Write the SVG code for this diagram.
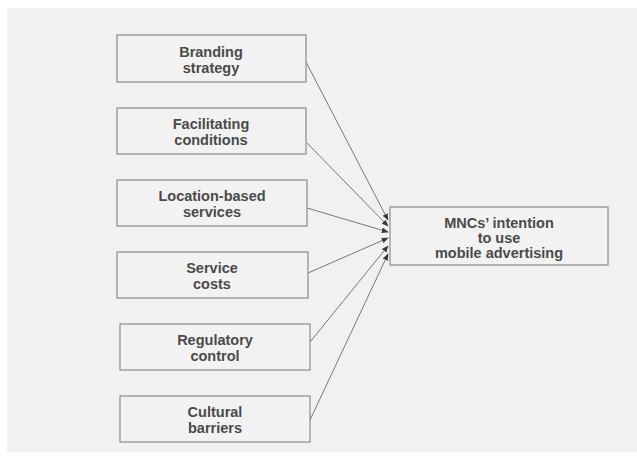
<svg xmlns="http://www.w3.org/2000/svg" width="637" height="459" viewBox="0 0 637 459">
  <defs>
    <style>
      .box { fill: #f2f2f2; stroke: #8a8a8a; stroke-width: 1.2; }
      .lbl { font-family: "Liberation Sans", Arial, sans-serif; font-weight: bold; font-size: 14.5px; fill: #4a4a4a; text-anchor: middle; }
      .conn { stroke: #6a6a6a; stroke-width: 0.9; fill: none; marker-end: url(#arr); }
    </style>
    <marker id="arr" viewBox="0 0 10 10" refX="9" refY="5" markerWidth="7" markerHeight="7" orient="auto" markerUnits="userSpaceOnUse">
      <path d="M0,1 L10,5 L0,9 z" fill="#3a3a3a"/>
    </marker>
  </defs>
  <rect x="0" y="0" width="637" height="459" fill="#ffffff"/>
  <rect x="7" y="8" width="630" height="444" fill="#f1f1f1"/>

  <g id="connectors">
    <line class="conn" x1="306" y1="62" x2="388" y2="220"/>
    <line class="conn" x1="307" y1="143" x2="388" y2="226"/>
    <line class="conn" x1="307" y1="208" x2="388" y2="232"/>
    <line class="conn" x1="308" y1="273" x2="388" y2="238"/>
    <line class="conn" x1="310" y1="342" x2="388" y2="246"/>
    <line class="conn" x1="310" y1="420" x2="388" y2="254"/>
  </g>

  <g id="branding">
    <rect class="box" x="117" y="35" width="189" height="47"/>
    <text class="lbl" x="211" y="57">Branding</text>
    <text class="lbl" x="211" y="73">strategy</text>
  </g>
  <g id="facilitating">
    <rect class="box" x="117" y="108" width="189" height="46"/>
    <text class="lbl" x="211" y="129">Facilitating</text>
    <text class="lbl" x="211" y="145">conditions</text>
  </g>
  <g id="location">
    <rect class="box" x="117" y="180" width="190" height="46"/>
    <text class="lbl" x="212" y="201">Location-based</text>
    <text class="lbl" x="212" y="217">services</text>
  </g>
  <g id="service">
    <rect class="box" x="117" y="252" width="191" height="46"/>
    <text class="lbl" x="212" y="273">Service</text>
    <text class="lbl" x="212" y="289">costs</text>
  </g>
  <g id="regulatory">
    <rect class="box" x="120" y="324" width="190" height="46"/>
    <text class="lbl" x="215" y="345">Regulatory</text>
    <text class="lbl" x="215" y="361">control</text>
  </g>
  <g id="cultural">
    <rect class="box" x="120" y="396" width="190" height="46"/>
    <text class="lbl" x="215" y="417">Cultural</text>
    <text class="lbl" x="215" y="433">barriers</text>
  </g>
  <g id="intention">
    <rect class="box" x="390" y="207" width="218" height="58"/>
    <text class="lbl" x="499" y="228">MNCs’ intention</text>
    <text class="lbl" x="499" y="243">to use</text>
    <text class="lbl" x="499" y="258">mobile advertising</text>
  </g>
</svg>
